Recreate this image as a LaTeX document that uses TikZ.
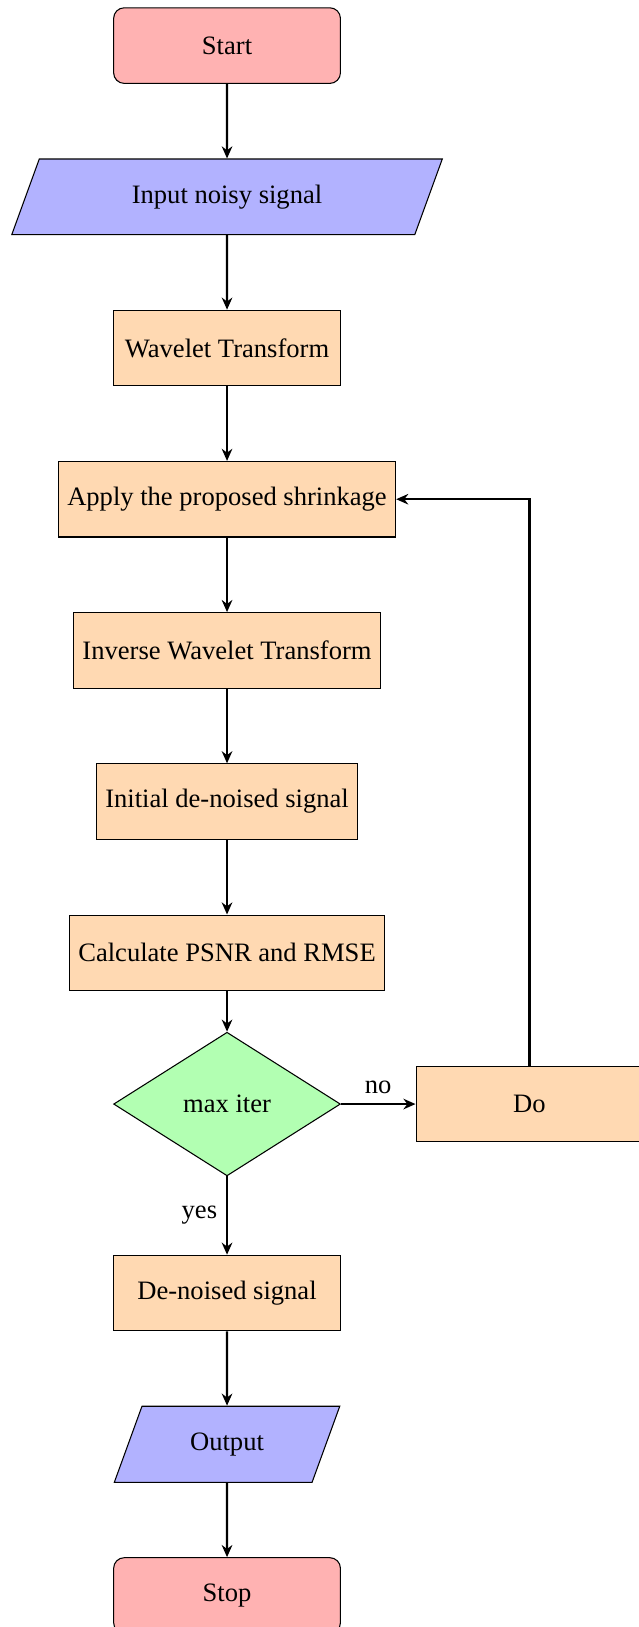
\documentclass[tikz,border=0pt]{standalone}
\usepackage{fontspec}
\setmainfont{Liberation Serif}
\usetikzlibrary{arrows.meta,shapes.geometric}

\begin{document}
\begin{tikzpicture}[>={Stealth[length=1.6mm,width=1.4mm]},thick,
  startstop/.style={rectangle,rounded corners,minimum width=3cm,minimum height=1cm,text centered,draw=black,thin,fill=red!30},
  io/.style={trapezium,trapezium left angle=70,trapezium right angle=110,minimum width=3cm,minimum height=1cm,text centered,draw=black,thin,fill=blue!30},
  process/.style={rectangle,minimum width=3cm,minimum height=1cm,text centered,draw=black,thin,fill=orange!30},
  decision/.style={diamond,minimum width=3cm,minimum height=1.9cm,aspect=1.6,inner sep=1pt,text centered,draw=black,thin,fill=green!30}]
\useasboundingbox (-3.003,0.603) rectangle (5.437,-20.917);
\node[startstop] (start) at (0,0) {Start};
\node[io] (in) at (0,-2) {Input noisy signal};
\node[process] (wt) at (0,-4) {Wavelet Transform};
\node[process] (shrink) at (0,-6) {Apply the proposed shrinkage};
\node[process] (iwt) at (0,-8) {Inverse Wavelet Transform};
\node[process] (init) at (0,-10) {Initial de-noised signal};
\node[process] (calc) at (0,-12) {Calculate PSNR and RMSE};
\node[decision] (dec) at (0,-14) {max iter};
\node[process] (do) at (4,-14) {Do};
\node[process] (den) at (0,-16.5) {De-noised signal};
\node[io] (out) at (0,-18.5) {Output};
\node[startstop] (stop) at (0,-20.5) {Stop};
\draw[->] (start) -- (in);
\draw[->] (in) -- (wt);
\draw[->] (wt) -- (shrink);
\draw[->] (shrink) -- (iwt);
\draw[->] (iwt) -- (init);
\draw[->] (init) -- (calc);
\draw[->] (calc) -- (dec);
\draw[->] (dec) -- node[above]{no} (do);
\draw[->] (dec) -- node[left]{yes} (den);
\draw[->] (do) |- (shrink);
\draw[->] (den) -- (out);
\draw[->] (out) -- (stop);
\end{tikzpicture}
\end{document}
